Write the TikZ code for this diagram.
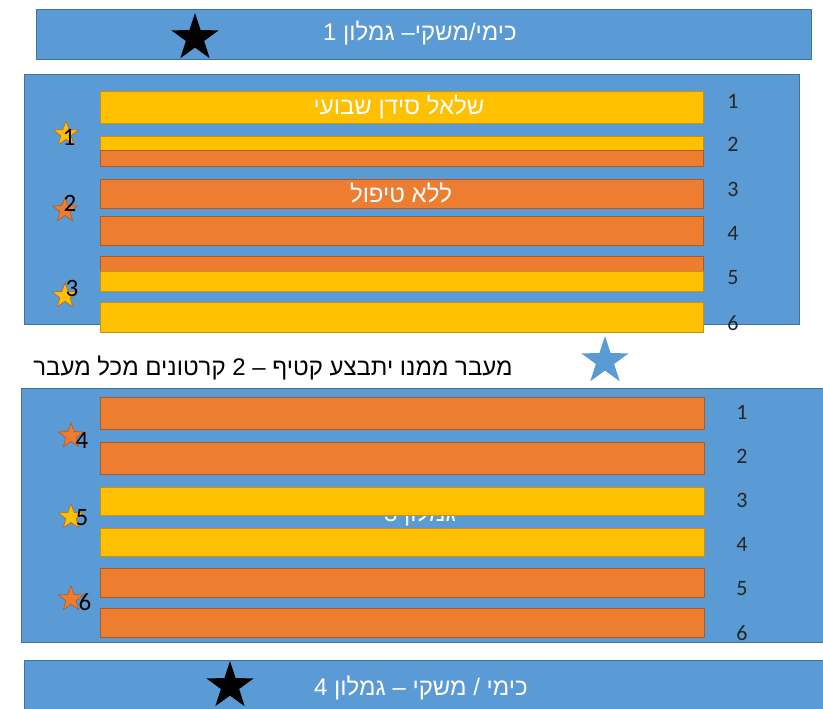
\documentclass[tikz,border=0pt]{standalone}
\usepackage{fontspec}
\setmainfont{Liberation Sans}
\newfontfamily\hebfont[Script=Hebrew]{Liberation Sans}
\newfontfamily\numfont{Carlito}
\TeXXeTstate=1
\usetikzlibrary{shapes.geometric}
\definecolor{oblue}{HTML}{5B9BD5}
\definecolor{obluedk}{HTML}{41719C}
\definecolor{oorange}{HTML}{ED7D31}
\definecolor{oorangedk}{HTML}{AE5A21}
\definecolor{oyellow}{HTML}{FFC000}
\definecolor{oyellowdk}{HTML}{C9901A}
\tikzset{
  panel/.style={fill=oblue, draw=obluedk, line width=0.7pt},
  ybar/.style={fill=oyellow, draw=oyellowdk, line width=0.7pt},
  obar/.style={fill=oorange, draw=oorangedk, line width=0.7pt},
  htext/.style={text=white, font=\hebfont\fontsize{24}{28}\selectfont, inner sep=0pt},
  btext/.style={text=black, font=\hebfont\fontsize{24}{28}\selectfont, inner sep=0pt},
  rownum/.style={font=\numfont\fontsize{22}{26}\selectfont, text=black!85, inner sep=0pt},
  starnum/.style={font=\numfont\fontsize{25}{30}\selectfont, text=black, inner sep=0pt},
  bigstar/.style={star, star points=5, star point ratio=2.6, minimum size=50pt, inner sep=0pt},
  smallstar/.style={star, star points=5, star point ratio=2.4, minimum size=26pt, inner sep=0pt, line width=0.6pt},
  ystar/.style={smallstar, fill=oyellow, draw=oorange!80!black},
  ostar/.style={smallstar, fill=oorange, draw=oorangedk},
}
\begin{document}
\begin{tikzpicture}[x=1pt, y=-1pt]
\useasboundingbox (0,0) rectangle (823,709);

% top banner
\draw[panel] (36,9) rectangle (811,59);
\node[bigstar, fill=black] (s0) at (195,38) {};
\node[htext] (t0) at (420,33) {\beginR כימי/משקי– גמלון 1\endR};

% upper block
\draw[panel] (24,74) rectangle (799,324);
\draw[ybar] (100,91) rectangle (703,123);
\draw[ybar] (100,136) rectangle (703,150);
\draw[obar] (100,150) rectangle (703,166);
\draw[obar] (100,179) rectangle (703,208);
\draw[obar] (100,216) rectangle (703,245);
\draw[obar] (100,256) rectangle (703,271);
\draw[ybar] (100,271) rectangle (703,291);
\draw[ybar] (100,302) rectangle (703,332);
\node[htext] (tb1) at (399,107) {\beginR שלאל סידן שבועי\endR};
\node[htext] (tb3) at (401,193) {\beginR ללא טיפול\endR};
\node[rownum] (u1) at (733,101) {1};
\node[rownum] (u2) at (733,144) {2};
\node[rownum] (u3) at (733,189) {3};
\node[rownum] (u4) at (733,233) {4};
\node[rownum] (u5) at (733,278) {5};
\node[rownum] (u6) at (733,323) {6};
\node[ystar] (ls1) at (66,134) {};
\node[starnum] (ln1) at (69,137) {1};
\node[ostar] (ls2) at (65,210) {};
\node[starnum] (ln2) at (70,203) {2};
\node[ystar] (ls3) at (65,296) {};
\node[starnum] (ln3) at (72,288) {3};

% middle
\node[btext] (tm) at (273,368) {\beginR מעבר ממנו יתבצע קטיף – 2 קרטונים מכל מעבר\endR};
\node[bigstar, fill=oblue] (sm) at (605,361) {};

% lower block
\draw[panel] (21,388) rectangle (823,642);
\node[htext] (tg3) at (420,514) {\beginR גמלון 3\endR};
\draw[obar] (100,397) rectangle (704,429);
\draw[obar] (100,442) rectangle (704,474);
\draw[ybar] (100,487) rectangle (704,515);
\draw[ybar] (100,528) rectangle (704,556);
\draw[obar] (100,568) rectangle (704,597);
\draw[obar] (100,608) rectangle (704,637);
\node[rownum] (d1) at (742,412) {1};
\node[rownum] (d2) at (742,456) {2};
\node[rownum] (d3) at (742,500) {3};
\node[rownum] (d4) at (742,544) {4};
\node[rownum] (d5) at (742,589) {5};
\node[rownum] (d6) at (742,633) {6};
\node[ostar] (ls4) at (71,436) {};
\node[starnum] (ln4) at (82,440) {4};
\node[ystar] (ls5) at (71,517) {};
\node[starnum] (ln5) at (82,518) {5};
\node[ostar] (ls6) at (71,599) {};
\node[starnum] (ln6) at (85,602) {6};

% bottom banner
\draw[panel] (24,660) rectangle (824,712);
\node[bigstar, fill=black] (s4) at (230,686) {};
\node[htext] (t4) at (421,688) {\beginR כימי / משקי – גמלון 4\endR};
\end{tikzpicture}
\end{document}
